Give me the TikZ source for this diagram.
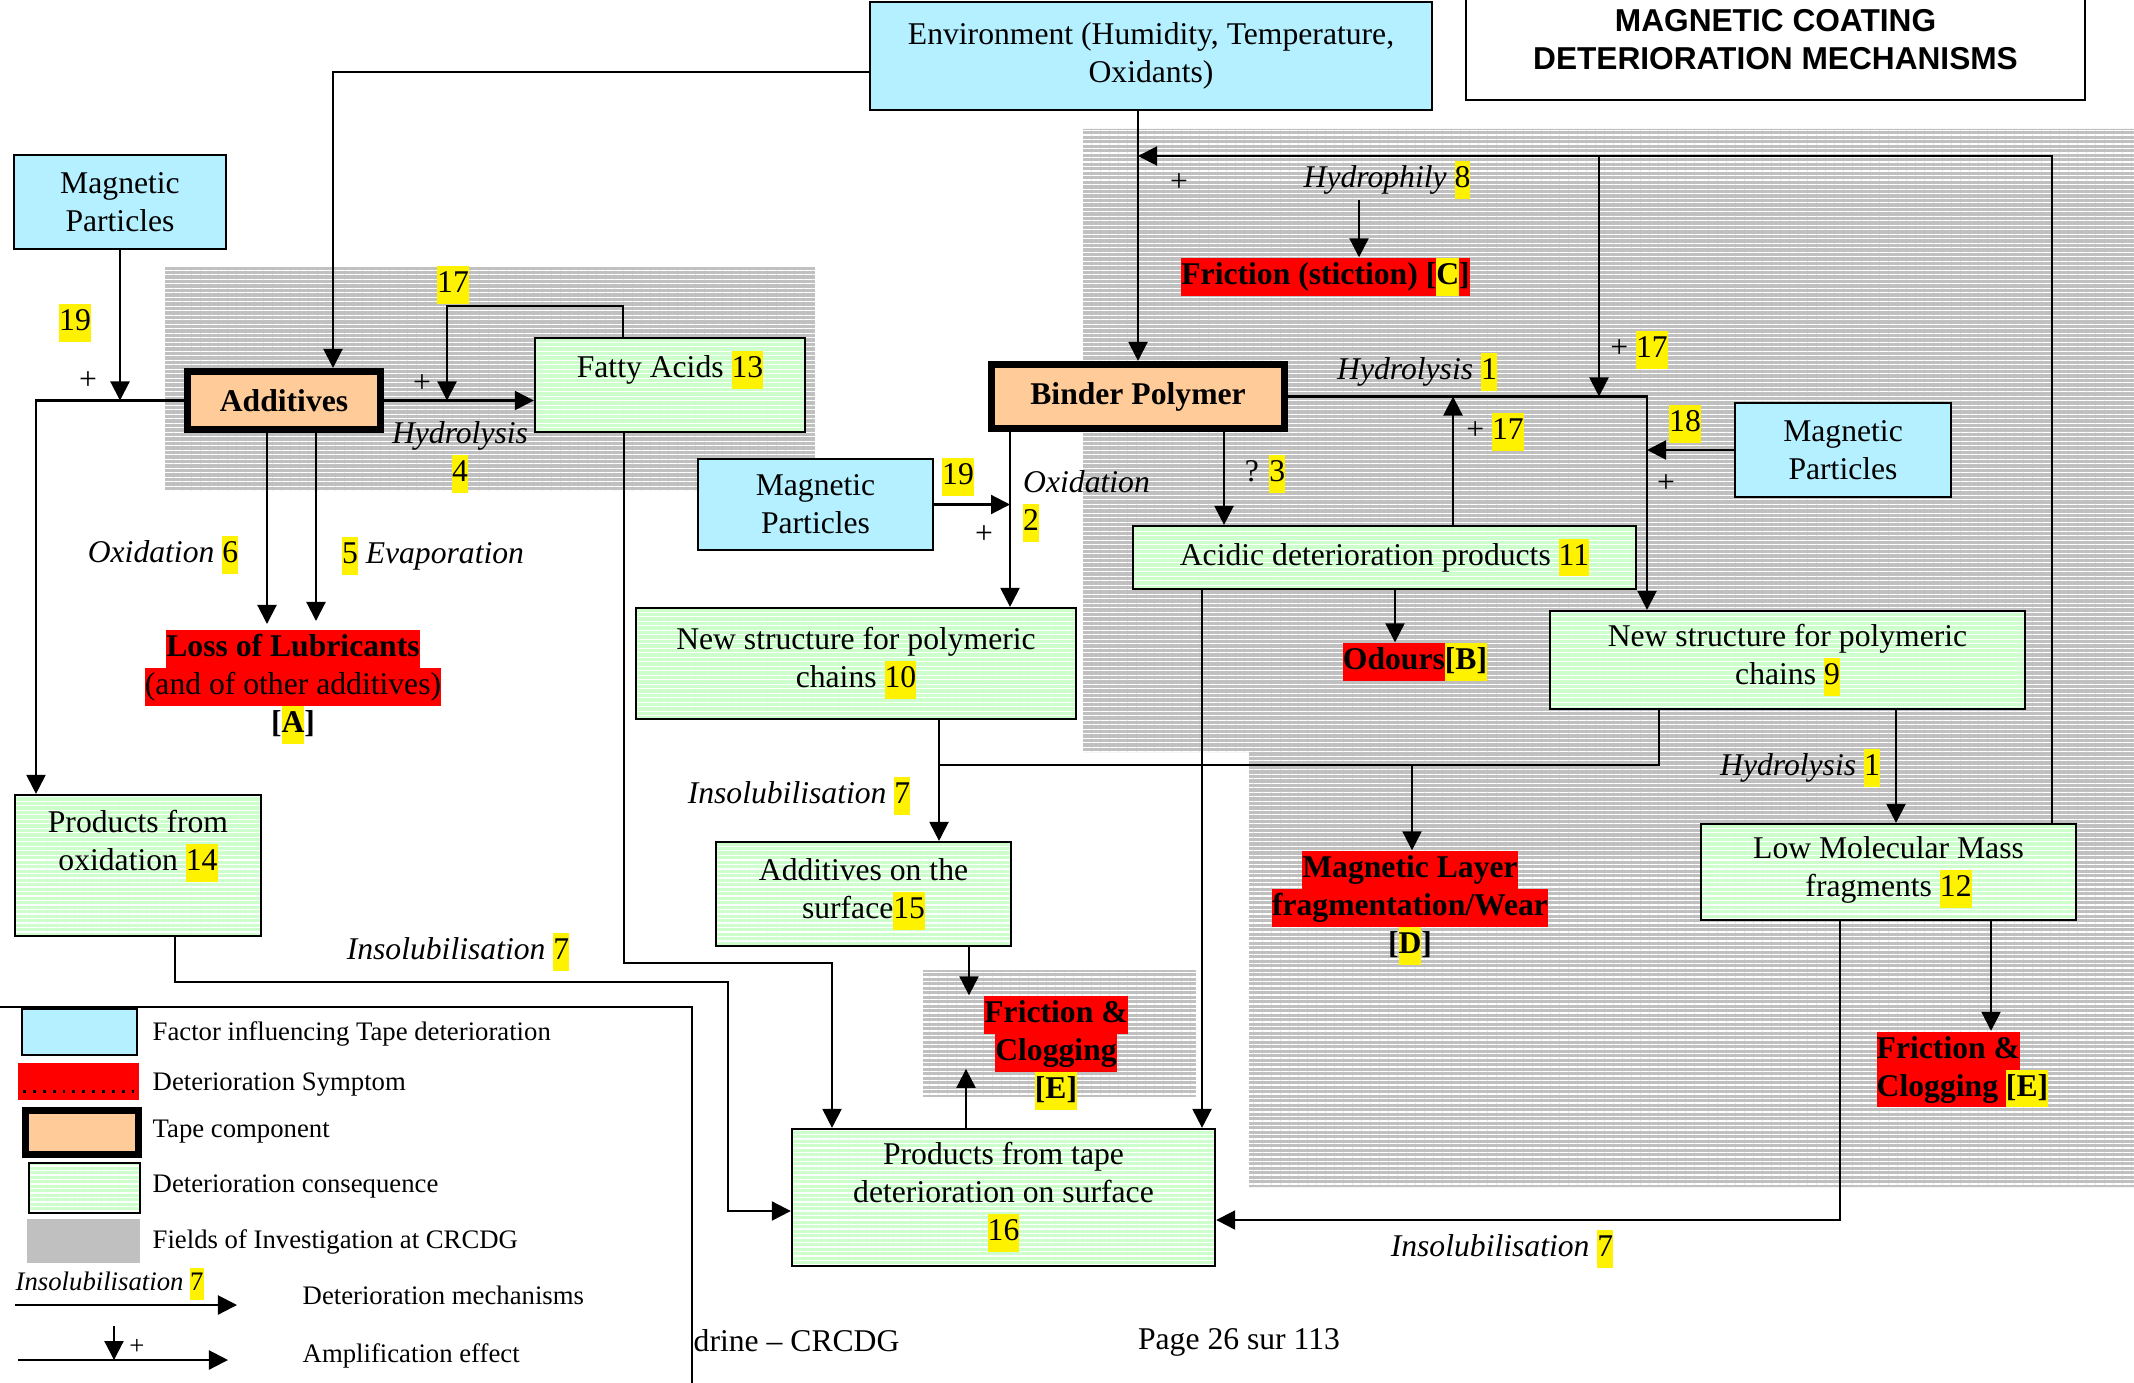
\documentclass[tikz,border=0pt]{standalone}
\usepackage{fontspec}
\setmainfont{Liberation Serif}
\newfontfamily\titlefont{Liberation Sans}
\usetikzlibrary{arrows.meta, positioning, patterns.meta}
\definecolor{factorblue}{RGB}{180,240,255}
\definecolor{peach}{RGB}{255,204,153}
\definecolor{conseqgreen}{RGB}{204,255,204}
\definecolor{fieldgray}{RGB}{192,192,192}
\newcommand{\yl}[1]{{\setlength{\fboxsep}{0pt}\colorbox{yellow}{\upshape\strut#1}}}
\newcommand{\rd}[1]{{\setlength{\fboxsep}{0pt}\colorbox{red}{\strut#1}}}
\tikzset{
  stripes/.style={pattern={Lines[angle=0,distance=1.28pt,line width=0.37pt]}, pattern color=white},
  factor/.style={draw, fill=factorblue, line width=0.6pt, align=center},
  tapecomp/.style={draw, fill=peach, line width=2pt, font=\bfseries},
  conseq/.style={draw, preaction={fill=conseqgreen}, stripes, line width=0.6pt, align=center},
  symptom/.style={inner sep=0pt, align=center, font=\bfseries},
  mech/.style={inner sep=1pt, font=\itshape},
  plus/.style={inner sep=1pt},
  arr/.style={line width=0.6pt, -{Triangle[length=1.9mm,width=1.9mm]}},
  field/.style={preaction={fill=fieldgray}, stripes},
  legtxt/.style={inner sep=0pt, font=\fontsize{7.6}{9}\selectfont},
}
\begin{document}
\fontsize{9}{10.8}\selectfont
\begin{tikzpicture}[x=0.01cm, y=-0.01cm]
\useasboundingbox (0,0) rectangle (2134,1382);
\clip (0,0) rectangle (2134,1382);

% fields of investigation
\path[field] (1083,129) -- (2140,129) -- (2140,1187) -- (1249,1187) -- (1249,752) -- (1083,752) -- cycle;
\path[field] (165,267) rectangle (815,491);
\path[field] (923,970) rectangle (1196,1097);

% title
\node[draw, line width=0.6pt, minimum width=6.19cm, minimum height=1.2cm, align=center, font=\titlefont\bfseries] (title) at (1775.5,40) {MAGNETIC COATING\\DETERIORATION MECHANISMS};

% factors and tape components
\node[factor, minimum width=5.62cm, minimum height=1.08cm] (env) at (1151,56) {Environment (Humidity, Temperature,\\Oxidants)};
\node[factor, minimum width=2.12cm, minimum height=0.94cm] (mp1) at (120,202) {Magnetic\\Particles};
\node[factor, minimum width=2.35cm, minimum height=0.91cm] (mp2) at (815.5,504.5) {Magnetic\\Particles};
\node[factor, minimum width=2.16cm, minimum height=0.94cm] (mp3) at (1843,450) {Magnetic\\Particles};
\node[tapecomp, minimum width=1.93cm, minimum height=0.58cm] (add) at (284,400.5) {Additives};
\node[tapecomp, minimum width=2.93cm, minimum height=0.64cm] (bp) at (1138,396.5) {Binder Polymer};

% consequences
\node[conseq, minimum width=2.70cm, minimum height=0.94cm, text depth=11.8pt] (fatty) at (670,385) {Fatty Acids \yl{13}};
\node[conseq, minimum width=5.03cm, minimum height=0.63cm] (acid) at (1384.5,557.5) {Acidic deterioration products \yl{11}};
\node[conseq, minimum width=4.40cm, minimum height=1.11cm] (ns10) at (856,663.5) {New structure for polymeric\\chains \yl{10}};
\node[conseq, minimum width=4.75cm, minimum height=0.98cm] (ns9) at (1787.5,660) {New structure for polymeric\\chains \yl{9}};
\node[conseq, minimum width=2.46cm, minimum height=1.41cm] (prod14) at (138,865.5) {Products from\\oxidation \yl{14}\\\strut};
\node[conseq, minimum width=2.95cm, minimum height=1.04cm] (surf15) at (863.5,894) {Additives on the\\surface\yl{15}};
\node[conseq, minimum width=4.23cm, minimum height=1.37cm] (prod16) at (1003.5,1197.5) {Products from tape\\deterioration on surface\\\yl{16}};
\node[conseq, minimum width=3.75cm, minimum height=0.96cm] (lmm) at (1888.5,872) {Low Molecular Mass\\fragments \yl{12}};

% symptoms
\node[symptom] (stiction) at (1325.5,277) {\rd{Friction (stiction) [\yl{C}]}};
\node[symptom] (odours) at (1415,662) {\rd{Odours}\yl{[B]}};
\node[symptom] (loss) at (293,687) {\rd{Loss of Lubricants}\\\rd{\mdseries(and of other additives)}\\{[}\yl{A}]};
\node[symptom] (maglayer) at (1410,908) {\rd{Magnetic Layer}\\\rd{fragmentation/Wear}\\{[}\yl{D}]};
\node[symptom] (fc1) at (1056,1053) {\rd{Friction \&}\\\rd{Clogging}\\\yl{[E]}};
\node[symptom, align=left, anchor=west] (fc2) at (1876,1069.5) {\rd{Friction \&}\\\rd{Clogging }\yl{[E]}};

% mechanisms around the additives
\draw[arr] (env.west |- 0,72) -| (333,0 |- add.north);
\draw[arr] (mp1.south) -- (mp1.south |- add.west);
\draw[arr] (add.west) -| (36,0 |- prod14.north);
\draw[arr] (add.east) -- (fatty.west |- add.east);
\draw[arr] (623,0 |- fatty.north) -- ++(0,-31) -| (447,0 |- add.east);
\draw[arr] (267,0 |- add.south) -- (267,624);
\draw[arr] (316,0 |- add.south) -- (316,621);
\draw[arr] (624,0 |- fatty.south) -- (624,963) -| (832,0 |- prod16.north);
\draw[arr] (175,0 |- prod14.south) -- (175,982) -| (728,1211) -- (prod16.west |- 728,1211);
\node[mech] (m19a) at (75,323) {\yl{19}};
\node[plus] (p19a) at (88,381) {+};
\node[mech] (m17a) at (453,285) {\yl{17}};
\node[plus] (p17a) at (422,384) {+};
\node[mech, align=center] (m4) at (460,457) {Hydrolysis\\\yl{4}};
\node[mech] (m6) at (163,555) {Oxidation \yl{6}};
\node[mech] (m5) at (433,556) {\yl{5} Evaporation};
\node[mech] (m7a) at (458,952) {Insolubilisation \yl{7}};

% mechanisms around the binder
\draw[arr] (bp.north |- env.south) -- (bp.north);
\draw[arr] (2052,0 |- lmm.north) |- (bp.north |- 0,156);
\draw[arr] (1599,156) -- (1599,0 |- bp.east);
\draw[arr] (1359,200) -- (1359,0 |- stiction.north);
\draw[arr] (bp.east) -| (1647,0 |- ns9.north);
\draw[arr] (mp3.west) -- (1647,0 |- mp3.west);
\draw[arr] (1224,0 |- bp.south) -- (1224,0 |- acid.north);
\draw[arr] (1453,0 |- acid.north) -- (1453,0 |- bp.east);
\draw[arr] (1395,0 |- acid.south) -- (1395,0 |- odours.north);
\draw[arr] (1202,0 |- acid.south) -- (1202,0 |- prod16.north);
\draw[arr] (1010,0 |- bp.south) -- (1010,0 |- ns10.north);
\draw[arr] (mp2.east) -- (1010,0 |- mp2.east);
\draw[arr] (939,0 |- ns10.south) -- (939,0 |- surf15.north);
\draw[line width=0.6pt] (1659,0 |- ns9.south) |- (939,765);
\draw[arr] (1412,765) -- (1412,0 |- maglayer.north);
\draw[arr] (1896,0 |- ns9.south) -- (1896,0 |- lmm.north);
\draw[arr] (1991,0 |- lmm.south) -- (1991,0 |- fc2.north);
\draw[arr] (1840,0 |- lmm.south) |- (prod16.east |- 0,1220);
\draw[arr] (969,0 |- surf15.south) -- (969,0 |- fc1.north);
\draw[arr] (966,0 |- prod16.north) -- ++(0,-59);
\node[plus] (p8) at (1179,183) {+};
\node[mech] (m8) at (1387,180) {Hydrophily \yl{8}};
\node[plus] (p17b) at (1639,350) {+ \yl{17}};
\node[mech] (m1a) at (1417,372) {Hydrolysis \yl{1}};
\node[mech] (m18) at (1685,424) {\yl{18}};
\node[plus] (p18) at (1666,484) {+};
\node[plus] (m3) at (1265,474) {? \yl{3}};
\node[plus] (p17c) at (1495,432) {+ \yl{17}};
\node[mech] (m19b) at (958,477) {\yl{19}};
\node[plus] (p19b) at (984,535) {+};
\node[mech, align=left, anchor=west] (m2) at (1019,506) {Oxidation\\\yl{2}};
\node[mech] (m7b) at (799,796) {Insolubilisation \yl{7}};
\node[mech] (m1b) at (1800,768) {Hydrolysis \yl{1}};
\node[mech] (m7c) at (1502,1249) {Insolubilisation \yl{7}};

% legend
\node[draw, line width=0.6pt, minimum width=7.13cm, minimum height=4cm, anchor=north east] (legend) at (693,1006) {};
\node[factor, minimum width=1.15cm, minimum height=0.46cm] (lgfactor) at (79.5,1032) {};
\node[fill=red, minimum width=1.21cm, minimum height=0.37cm] (lgsymptom) at (78.5,1081.5) {};
\draw[dotted, line width=0.8pt] ([xshift=0.06cm,yshift=0.09cm]lgsymptom.south west) -- ([xshift=-0.04cm,yshift=0.09cm]lgsymptom.south east);
\node[tapecomp, minimum width=1.13cm, minimum height=0.44cm] (lgtape) at (82,1132.5) {};
\node[conseq, minimum width=1.11cm, minimum height=0.50cm] (lgconseq) at (84.5,1188) {};
\node[fill=fieldgray, minimum width=1.13cm, minimum height=0.44cm] (lgfield) at (83.5,1241) {};
\node[legtxt, anchor=west] (lgfactortxt) at (152,1034) {Factor influencing Tape deterioration};
\node[legtxt, anchor=west] (lgsymptomtxt) at (152,1085) {Deterioration Symptom};
\node[legtxt, anchor=west] (lgtapetxt) at (152,1132) {Tape component};
\node[legtxt, anchor=west] (lgconseqtxt) at (152,1186) {Deterioration consequence};
\node[legtxt, anchor=west] (lgfieldtxt) at (152,1242) {Fields of Investigation at CRCDG};
\node[legtxt, anchor=west, font=\fontsize{7.6}{9}\selectfont\itshape] (lgmech) at (15,1284) {Insolubilisation \yl{7}};
\coordinate (lgmecha) at (15,1305);
\coordinate (lgmechb) at (237,1305);
\draw[arr] (lgmecha) -- (lgmechb);
\node[legtxt, anchor=west] (lgmechtxt) at (302,1295) {Deterioration mechanisms};
\coordinate (lgampa) at (18,1360);
\coordinate (lgampb) at (228,1360);
\coordinate (lgampc) at (114,1326);
\draw[arr] (lgampa) -- (lgampb);
\draw[arr] (lgampc) -- (lgampc |- lgampa);
\node[legtxt] (lgplus) at (137,1347) {+};
\node[legtxt, anchor=west] (lgamptxt) at (302,1356) {Amplification effect};

% page footer
\node[anchor=west, inner sep=0pt] (foot1) at (693,1341) {drine – CRCDG};
\node[inner sep=0pt] (foot2) at (1239,1342) {Page 26 sur 113};
\end{tikzpicture}
\end{document}
